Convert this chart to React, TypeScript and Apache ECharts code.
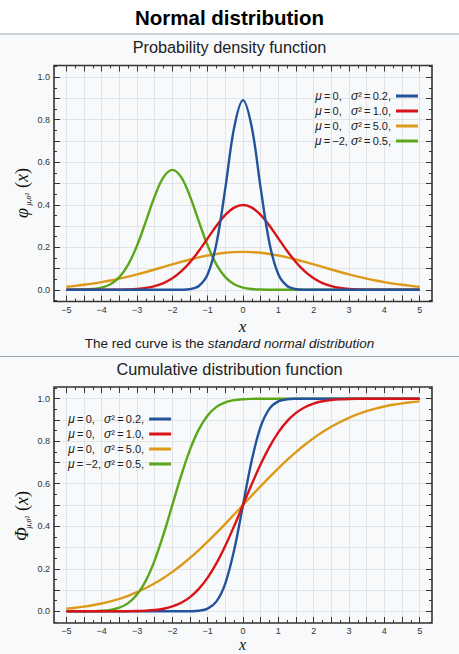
import React, { useEffect, useRef } from "react";
import * as echarts from "echarts";

// ---------- data ----------
const xValues = [-5, -4.75, -4.5, -4.25, -4, -3.75, -3.5, -3.25, -3, -2.75, -2.5, -2.25, -2, -1.75, -1.5, -1.25, -1, -0.75, -0.5, -0.25, 0, 0.25, 0.5, 0.75, 1, 1.25, 1.5, 1.75, 2, 2.25, 2.5, 2.75, 3, 3.25, 3.5, 3.75, 4, 4.25, 4.5, 4.75, 5];

const pdfBlue = [0, 0, 0, 0, 0, 0, 0, 0, 0, 0, 0, 0, 0, 0.0004, 0.0032, 0.018, 0.073, 0.219, 0.478, 0.763, 0.892, 0.763, 0.478, 0.219, 0.073, 0.018, 0.0032, 0.0004, 0, 0, 0, 0, 0, 0, 0, 0, 0, 0, 0, 0, 0];
const pdfRed = [0, 0, 0, 0, 0.0001, 0.0004, 0.0009, 0.002, 0.0044, 0.0091, 0.0175, 0.0317, 0.054, 0.0863, 0.1295, 0.1826, 0.242, 0.3011, 0.3521, 0.3867, 0.3989, 0.3867, 0.3521, 0.3011, 0.242, 0.1826, 0.1295, 0.0863, 0.054, 0.0317, 0.0175, 0.0091, 0.0044, 0.002, 0.0009, 0.0004, 0.0001, 0, 0, 0, 0];
const pdfOrange = [0.0146, 0.0187, 0.0236, 0.0293, 0.036, 0.0437, 0.0524, 0.062, 0.0725, 0.0837, 0.0955, 0.1075, 0.1196, 0.1313, 0.1425, 0.1526, 0.1614, 0.1687, 0.174, 0.1773, 0.1784, 0.1773, 0.174, 0.1687, 0.1614, 0.1526, 0.1425, 0.1313, 0.1196, 0.1075, 0.0955, 0.0837, 0.0725, 0.062, 0.0524, 0.0437, 0.036, 0.0293, 0.0236, 0.0187, 0.0146];
const pdfGreen = [0.0001, 0.0003, 0.0011, 0.0036, 0.0103, 0.0264, 0.0595, 0.1183, 0.2076, 0.3215, 0.4394, 0.53, 0.5642, 0.53, 0.4394, 0.3215, 0.2076, 0.1183, 0.0595, 0.0264, 0.0103, 0.0036, 0.0011, 0.0003, 0.0001, 0, 0, 0, 0, 0, 0, 0, 0, 0, 0, 0, 0, 0, 0, 0, 0];

const cdfBlue = [0, 0, 0, 0, 0, 0, 0, 0, 0, 0, 0, 0, 0, 0, 0.0004, 0.0026, 0.0127, 0.0468, 0.1318, 0.2881, 0.5, 0.7119, 0.8682, 0.9532, 0.9873, 0.9974, 0.9996, 1, 1, 1, 1, 1, 1, 1, 1, 1, 1, 1, 1, 1, 1];
const cdfRed = [0, 0, 0, 0, 0, 0.0001, 0.0002, 0.0006, 0.0013, 0.003, 0.0062, 0.0122, 0.0228, 0.0401, 0.0668, 0.1056, 0.1587, 0.2266, 0.3085, 0.4013, 0.5, 0.5987, 0.6915, 0.7734, 0.8413, 0.8944, 0.9332, 0.9599, 0.9772, 0.9878, 0.9938, 0.997, 0.9987, 0.9994, 0.9998, 0.9999, 1, 1, 1, 1, 1];
const cdfOrange = [0.0127, 0.0168, 0.0221, 0.0287, 0.0368, 0.0468, 0.0588, 0.0731, 0.0899, 0.1094, 0.1318, 0.1571, 0.1855, 0.2169, 0.2512, 0.2881, 0.3274, 0.3687, 0.4115, 0.4555, 0.5, 0.5445, 0.5885, 0.6313, 0.6726, 0.7119, 0.7488, 0.7831, 0.8145, 0.8429, 0.8682, 0.8906, 0.9101, 0.9269, 0.9412, 0.9532, 0.9632, 0.9713, 0.9779, 0.9832, 0.9873];
const cdfGreen = [0, 0, 0.0002, 0.0007, 0.0023, 0.0067, 0.0169, 0.0385, 0.0786, 0.1444, 0.2398, 0.3618, 0.5, 0.6382, 0.7602, 0.8556, 0.9214, 0.9615, 0.9831, 0.9933, 0.9977, 0.9993, 0.9998, 1, 1, 1, 1, 1, 1, 1, 1, 1, 1, 1, 1, 1, 1, 1, 1, 1, 1];

const legendMu = ["0,   ", "0,   ", "0,   ", "\u22122, "];
const legendVar = ["0.2,", "1.0,", "5.0,", "0.5,"];
const seriesNames = ["\u03bc=0, \u03c3\u00b2=0.2", "\u03bc=0, \u03c3\u00b2=1.0", "\u03bc=0, \u03c3\u00b2=5.0", "\u03bc=\u22122, \u03c3\u00b2=0.5"];
const seriesColors = ["#22539c", "#d81418", "#dc9a18", "#5aa71c"];

const xLabelValues = [-5, -4, -3, -2, -1, 0, 1, 2, 3, 4, 5];
const xTickValues = [-5, -4.5, -4, -3.5, -3, -2.5, -2, -1.5, -1, -0.5, 0, 0.5, 1, 1.5, 2, 2.5, 3, 3.5, 4, 4.5, 5];
const yLabelValues = [0, 0.2, 0.4, 0.6, 0.8, 1.0];
const yTickValues = [0, 0.1, 0.2, 0.3, 0.4, 0.5, 0.6, 0.7, 0.8, 0.9, 1.0];
const yMinorTickValues = [-0.05, 0, 0.05, 0.1, 0.15, 0.2, 0.25, 0.3, 0.35, 0.4, 0.45, 0.5, 0.55, 0.6, 0.65, 0.7, 0.75, 0.8, 0.85, 0.9, 0.95, 1.0, 1.05];

const titleText = "Normal distribution";
const pdfTitle = "Probability density function";
const cdfTitle = "Cumulative distribution function";
const captionPlain = "The red curve is the ";
const captionItalic = "standard normal distribution";

// ---------- layout ----------
const W = 459;
const H = 654;
const X_MIN = -5.35;
const X_MAX = 5.35;
const Y_MIN = -0.055;
const Y_MAX = 1.055;
const SANS = '"Liberation Sans", Arial, sans-serif';
const SERIF = '"Liberation Serif", "DejaVu Serif", serif';
const AX = "#333";

const grids = [
  { left: 54, top: 65.5, width: 378, height: 236 },
  { left: 54, top: 387, width: 378, height: 236 },
];

function minus(v: number, digits: number) {
  return v.toFixed(digits).replace("-", "\u2212");
}

const noLine = { show: false, onZero: false };

function xAxesFor(g: number) {
  const base = {
    type: "value" as const,
    gridIndex: g,
    min: X_MIN,
    max: X_MAX,
    splitNumber: 10,
    minInterval: 1,
    maxInterval: 1,
    axisLine: noLine,
  };
  return [
    {
      ...base,
      position: "bottom",
      axisTick: { show: true, inside: true, length: 6, customValues: xTickValues, lineStyle: { color: AX, width: 1 } },
      axisLabel: {
        show: true,
        customValues: xLabelValues,
        formatter: (v: number) => minus(v, 0),
        fontSize: 9,
        fontFamily: SANS,
        color: AX,
        margin: 3.5,
      },
      splitLine: { show: true, lineStyle: { color: "#e1e4e7", width: 1 } },
    },
    {
      ...base,
      position: "bottom",
      axisTick: { show: true, inside: true, length: 3, customValues: xValues, lineStyle: { color: AX, width: 1 } },
      axisLabel: { show: false },
      splitLine: { show: false },
    },
    {
      ...base,
      position: "top",
      axisTick: { show: true, inside: true, length: 6, customValues: xTickValues, lineStyle: { color: AX, width: 1 } },
      axisLabel: { show: false },
      splitLine: { show: false },
    },
    {
      ...base,
      position: "top",
      axisTick: { show: true, inside: true, length: 3, customValues: xValues, lineStyle: { color: AX, width: 1 } },
      axisLabel: { show: false },
      splitLine: { show: false },
    },
  ];
}

function yAxesFor(g: number) {
  const base = {
    type: "value" as const,
    gridIndex: g,
    min: Y_MIN,
    max: Y_MAX,
    splitNumber: 5,
    minInterval: 0.2,
    maxInterval: 0.2,
    axisLine: noLine,
  };
  return [
    {
      ...base,
      position: "left",
      axisTick: { show: true, inside: true, length: 6, customValues: yTickValues, lineStyle: { color: AX, width: 1 } },
      axisLabel: {
        show: true,
        customValues: yLabelValues,
        formatter: (v: number) => minus(v, 1),
        fontSize: 9,
        fontFamily: SANS,
        color: AX,
        margin: 4,
      },
      splitLine: { show: true, lineStyle: { color: "#e1e4e7", width: 1 } },
    },
    {
      ...base,
      position: "left",
      axisTick: { show: true, inside: true, length: 3, customValues: yMinorTickValues, lineStyle: { color: AX, width: 1 } },
      axisLabel: { show: false },
      splitLine: { show: false },
    },
    {
      ...base,
      position: "right",
      axisTick: { show: true, inside: true, length: 6, customValues: yTickValues, lineStyle: { color: AX, width: 1 } },
      axisLabel: { show: false },
      splitLine: { show: false },
    },
    {
      ...base,
      position: "right",
      axisTick: { show: true, inside: true, length: 3, customValues: yMinorTickValues, lineStyle: { color: AX, width: 1 } },
      axisLabel: { show: false },
      splitLine: { show: false },
    },
  ];
}

function lineSeries(i: number, ys: number[], g: number, z: number) {
  return {
    type: "line",
    name: seriesNames[i],
    xAxisIndex: 4 * g,
    yAxisIndex: 4 * g,
    data: xValues.map((x, k) => [x, ys[k]]),
    showSymbol: false,
    symbol: "none",
    smooth: 0.35,
    color: seriesColors[i],
    lineStyle: { width: 2.4, color: seriesColors[i] },
    z,
    silent: true,
  };
}

const legendRich = {
  m: { fontStyle: "italic", fontSize: 12, fontFamily: SANS, color: "#222", lineHeight: 12 },
  t: { fontSize: 11, fontFamily: SANS, color: "#222", lineHeight: 12 },
};

function legendFormatter(name: string) {
  const i = seriesNames.indexOf(name);
  return `{m|\u03bc}{t|\u2009=\u2009${legendMu[i]}}{m|\u03c3}{t|\u00b2\u2009=\u2009${legendVar[i]}}`;
}

function legendAt(pos: Record<string, number>) {
  return {
    ...pos,
    orient: "vertical",
    align: "right",
    padding: 0,
    itemGap: 3,
    itemWidth: 22,
    itemHeight: 3,
    icon: "rect",
    selectedMode: false,
    data: seriesNames,
    formatter: legendFormatter,
    textStyle: { rich: legendRich, lineHeight: 12, padding: [0, 0, 0, 0] },
  };
}

function yName(x: number, y: number, main: string) {
  return {
    type: "group",
    x,
    y,
    rotation: Math.PI / 2,
    silent: true,
    children: [
      {
        type: "text",
        x: 0,
        y: 0,
        style: { text: main, font: `italic 18px ${SERIF}`, fill: "#111", align: "left", verticalAlign: "middle" },
      },
      {
        type: "text",
        x: 12.5,
        y: 6,
        style: { text: "\u03bc,\u03c3\u00b2", font: `italic 8px ${SERIF}`, fill: "#111", align: "left", verticalAlign: "middle" },
      },
      {
        type: "text",
        x: 30,
        y: 0,
        style: {
          text: "{n|(}{i|x}{n|)}",
          rich: {
            n: { fontSize: 18, fontFamily: SERIF, fill: "#111" },
            i: { fontSize: 18, fontFamily: SERIF, fontStyle: "italic", fill: "#111" },
          },
          align: "left",
          verticalAlign: "middle",
        },
      },
    ],
  };
}

export default function App() {
  const ref = useRef<HTMLDivElement>(null);

  useEffect(() => {
    document.body.style.margin = "0";
    if (!ref.current) return;
    const chart = echarts.init(ref.current, undefined, { renderer: "svg" });

    const option = {
      animation: false,
      backgroundColor: "#f8f9fa",
      grid: grids.map((g) => ({
        ...g,
        show: true,
        borderColor: AX,
        borderWidth: 1.6,
        backgroundColor: "transparent",
      })),
      xAxis: [...xAxesFor(0), ...xAxesFor(1)],
      yAxis: [...yAxesFor(0), ...yAxesFor(1)],
      legend: [legendAt({ right: 41, top: 90 }), legendAt({ left: 68, top: 413 })],
      series: [
        lineSeries(2, pdfOrange, 0, 2),
        lineSeries(3, pdfGreen, 0, 3),
        lineSeries(1, pdfRed, 0, 4),
        lineSeries(0, pdfBlue, 0, 5),
        lineSeries(2, cdfOrange, 1, 2),
        lineSeries(3, cdfGreen, 1, 3),
        lineSeries(0, cdfBlue, 1, 4),
        lineSeries(1, cdfRed, 1, 5),
      ],
      graphic: [
        { type: "rect", z: -10, silent: true, shape: { x: 0, y: 0, width: W, height: 33.5 }, style: { fill: "#ffffff" } },
        { type: "line", silent: true, shape: { x1: 0, y1: 34, x2: W, y2: 34 }, style: { stroke: "#a2a9b1", lineWidth: 1 } },
        { type: "line", silent: true, shape: { x1: 0, y1: 356.5, x2: W, y2: 356.5 }, style: { stroke: "#a2a9b1", lineWidth: 1 } },
        {
          type: "text",
          x: 229.5,
          y: 17,
          silent: true,
          style: { text: titleText, font: `bold 20.5px ${SANS}`, fill: "#000", align: "center", verticalAlign: "middle" },
        },
        {
          type: "text",
          x: 229.5,
          y: 47,
          silent: true,
          style: { text: pdfTitle, font: `16.3px ${SANS}`, fill: "#202122", align: "center", verticalAlign: "middle" },
        },
        {
          type: "text",
          x: 229.5,
          y: 369,
          silent: true,
          style: { text: cdfTitle, font: `16.3px ${SANS}`, fill: "#202122", align: "center", verticalAlign: "middle" },
        },
        {
          type: "text",
          x: 229.5,
          y: 343,
          silent: true,
          style: {
            text: `{n|${captionPlain}}{i|${captionItalic}}`,
            rich: {
              n: { fontSize: 13.5, fontFamily: SANS, fill: "#202122" },
              i: { fontSize: 13.5, fontFamily: SANS, fontStyle: "italic", fill: "#202122" },
            },
            align: "center",
            verticalAlign: "middle",
          },
        },
        {
          type: "text",
          x: 242.5,
          y: 326,
          silent: true,
          style: { text: "x", font: `italic 17px ${SERIF}`, fill: "#111", align: "center", verticalAlign: "middle" },
        },
        {
          type: "text",
          x: 242.5,
          y: 644,
          silent: true,
          style: { text: "x", font: `italic 16px ${SERIF}`, fill: "#111", align: "center", verticalAlign: "middle" },
        },
        yName(22, 218, "\u03c6"),
        yName(22, 541, "\u03a6"),
      ],
    };

    chart.setOption(option as any);
    return () => {
      chart.dispose();
    };
  }, []);

  return <div ref={ref} style={{ width: W, height: H }} />;
}
